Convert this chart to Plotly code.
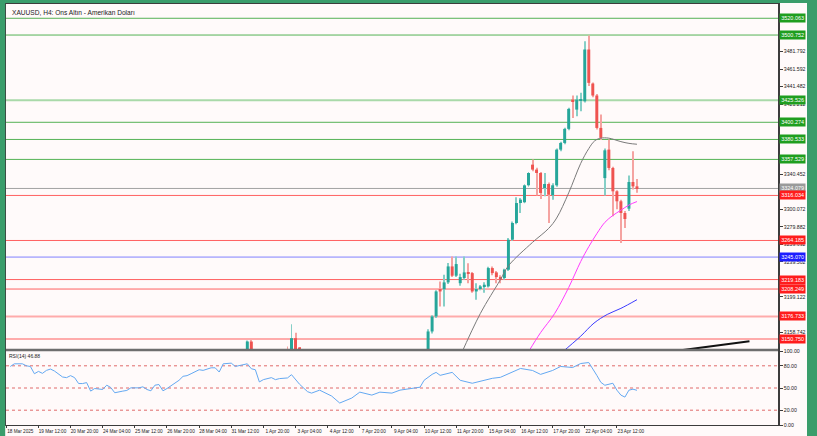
import plotly.graph_objects as go

# ---------------- data ----------------
symbol_title = "XAUUSD, H4: Ons Altın - Amerikan Doları"
rsi_title = "RSI(14) 46.88"

# H4 bar index (0 = first bar on the chart)
bar_idx = [60, 61, 70, 71, 72, 73,
           105, 106, 107, 108, 109, 110, 111, 112, 113, 114,
           115, 116, 117, 118, 119, 120, 121, 122, 123, 124,
           125, 126, 127, 128, 129, 130, 131, 132, 133, 134,
           135, 136, 137, 138, 139, 140, 141, 142, 143, 144,
           145, 146, 147, 148, 149, 150, 151, 152, 153, 154,
           155, 156, 157]
bar_open = [3130.0, 3147.8, 3135.0, 3118.0, 3151.7, 3141.0,
            3130.0, 3159.4, 3176.7, 3208.2, 3208.0, 3215.9, 3234.3, 3223.6, 3215.0, 3221.0,
            3227.4, 3226.6, 3205.5, 3209.3, 3211.3, 3211.3, 3232.4, 3227.4, 3222.0, 3220.9,
            3230.5, 3265.1, 3284.3, 3307.3, 3308.1, 3327.7, 3351.5, 3345.8, 3341.9, 3324.6,
            3329.2, 3316.2, 3327.7, 3368.8, 3376.5, 3392.7, 3426.5, 3414.9, 3425.5, 3424.5,
            3484.1, 3444.9, 3431.1, 3393.8, 3336.0, 3368.8, 3347.7, 3320.8, 3309.3, 3295.8,
            3300.8, 3331.5, 3326.5]
bar_high = [3149.0, 3149.7, 3142.0, 3167.7, 3158.0, 3141.5,
            3162.0, 3178.0, 3207.0, 3217.0, 3224.7, 3238.2, 3245.8, 3245.8, 3226.0, 3245.8,
            3238.0, 3228.0, 3215.0, 3213.0, 3216.0, 3234.0, 3234.3, 3229.0, 3224.0, 3231.5,
            3267.0, 3286.0, 3314.0, 3313.0, 3329.0, 3343.0, 3357.3, 3348.0, 3343.0, 3341.9,
            3331.0, 3330.0, 3370.0, 3378.0, 3394.0, 3417.0, 3431.1, 3431.1, 3434.2, 3493.7,
            3500.3, 3446.0, 3433.0, 3409.2, 3370.0, 3380.4, 3349.0, 3322.0, 3311.0, 3298.0,
            3338.9, 3366.9, 3335.0]
bar_low = [3125.0, 3130.0, 3120.0, 3110.0, 3100.0, 3105.0,
           3120.0, 3157.0, 3175.0, 3188.2, 3188.0, 3214.0, 3222.0, 3222.0, 3212.0, 3219.0,
           3215.0, 3204.0, 3195.9, 3207.0, 3204.0, 3210.0, 3224.0, 3215.0, 3215.0, 3219.0,
           3229.0, 3264.0, 3283.0, 3295.8, 3307.0, 3326.0, 3344.0, 3316.0, 3312.0, 3315.0,
           3284.3, 3311.2, 3326.0, 3367.0, 3375.0, 3391.0, 3405.3, 3407.3, 3413.0, 3423.0,
           3442.0, 3429.0, 3392.0, 3380.0, 3316.0, 3345.0, 3292.0, 3300.0, 3261.2, 3278.5,
           3298.0, 3323.0, 3319.0]
bar_close = [3147.8, 3135.0, 3128.0, 3151.7, 3125.0, 3120.0,
             3159.4, 3176.7, 3205.5, 3205.5, 3215.9, 3234.3, 3223.6, 3237.0, 3222.0, 3227.4,
             3226.0, 3205.5, 3208.2, 3211.3, 3213.2, 3232.4, 3226.6, 3222.0, 3219.0, 3230.5,
             3265.1, 3284.3, 3307.3, 3311.2, 3327.7, 3341.9, 3345.8, 3341.9, 3318.9, 3329.2,
             3316.9, 3327.7, 3368.8, 3376.5, 3392.7, 3415.7, 3424.5, 3426.5, 3426.5, 3484.1,
             3445.7, 3431.1, 3393.8, 3382.3, 3368.0, 3347.7, 3320.8, 3309.3, 3295.8, 3288.9,
             3331.5, 3326.5, 3324.6]

# moving averages
ma_gray_idx = [113, 118, 123, 125, 131, 135, 137, 140, 143, 145, 146.5, 148, 150, 153, 155, 157]
ma_gray_val = [3131, 3180, 3219, 3235, 3262, 3278, 3290, 3319, 3353, 3370, 3379, 3382, 3382, 3378, 3376, 3375]
ma_magenta_idx = [130, 133, 136.5, 140, 143, 145, 147, 149, 151, 153, 155, 157]
ma_magenta_val = [3136, 3158, 3180, 3210, 3240, 3257, 3272, 3285, 3293, 3299, 3305, 3309]
ma_blue_idx = [138, 143, 146.3, 149.6, 153, 157]
ma_blue_val = [3134, 3154, 3169, 3179, 3186, 3196]
ma_black_idx = [167.5, 185]
ma_black_val = [3137.5, 3148]

# horizontal levels
level_vals = [3520.063, 3500.752, 3425.526, 3400.274, 3380.533, 3357.529, 3324.079,
              3316.034, 3264.185, 3245.070, 3219.183, 3208.249, 3176.733, 3150.750]
level_kind = ["res", "res", "res_soft", "res", "res", "res", "pivot",
              "sup", "sup", "blue", "sup", "sup", "sup_soft", "sup_soft"]

# price scale tick labels
price_ticks = [3481.792, 3461.592, 3441.482, 3421.212, 3360.652, 3340.452, 3300.072,
               3279.882, 3259.692, 3239.502, 3199.122, 3178.932, 3158.742]

# time scale labels
time_tick_idx = [0, 8, 16, 24, 32, 40, 48, 56, 64, 72, 80, 88, 96, 104, 112, 120, 128, 136, 144, 152]
time_tick_text = ["18 Mar 2025", "19 Mar 12:00", "20 Mar 20:00", "24 Mar 04:00", "25 Mar 12:00",
                  "26 Mar 20:00", "28 Mar 04:00", "31 Mar 12:00", "1 Apr 20:00", "3 Apr 04:00",
                  "4 Apr 12:00", "7 Apr 20:00", "9 Apr 04:00", "10 Apr 12:00", "11 Apr 20:00",
                  "15 Apr 04:00", "16 Apr 12:00", "17 Apr 20:00", "22 Apr 04:00", "23 Apr 12:00"]

# RSI(14)
rsi_idx = [1, 2, 4, 5, 6, 7, 8, 9, 10, 11, 12, 13, 14, 15, 16, 17, 18, 19, 20, 21,
           22, 24, 25, 26, 27, 29, 30, 31, 33, 34, 35, 36, 37, 38, 39, 40, 42, 43, 44, 45,
           46, 48, 49, 51, 52, 53, 54, 56, 57, 58, 60, 61, 62, 63, 64, 66, 67, 68, 70, 71,
           72, 73, 75, 76, 78, 81, 83, 85, 86, 88, 91, 93, 96, 98, 101, 103, 104, 106, 107, 108,
           111, 113, 116, 118, 121, 123, 126, 128, 131, 133, 136, 138, 141, 142, 143, 145, 146, 147, 148, 149,
           151, 152, 153, 154, 155, 156, 157]
rsi_val = [79.1, 82.7, 82.7, 80.0, 79.1, 69.3, 72.4, 69.8, 73.8, 75.6, 72.9, 68.4, 64.9, 64.0, 66.7, 64.0, 56.0, 56.0, 57.3, 45.8,
           49.3, 48.0, 53.8, 50.7, 43.6, 45.8, 46.7, 50.2, 50.2, 51.6, 48.0, 46.2, 53.8, 54.7, 46.2, 49.3, 57.3, 60.4, 65.8, 66.7,
           69.3, 74.7, 73.8, 77.3, 77.3, 71.6, 82.7, 83.6, 79.1, 80.0, 82.7, 76.0, 74.7, 58.2, 61.3, 64.0, 61.3, 62.7, 63.6, 68.0,
           61.3, 55.1, 45.0, 43.1, 47.1, 39.1, 29.7, 33.7, 36.4, 44.4, 40.4, 44.4, 43.1, 47.1, 49.7, 51.1, 60.4, 68.4, 71.1, 67.1,
           71.1, 60.4, 56.4, 59.1, 63.1, 64.4, 71.1, 76.4, 73.7, 68.4, 73.7, 79.1, 77.7, 80.4, 83.1, 84.4, 76.4, 67.1, 57.7, 53.7,
           56.4, 47.1, 40.4, 37.7, 47.1, 48.4, 46.88]
rsi_levels = [80, 50, 20]
rsi_ticks = [0, 20, 50, 80, 100]

# ---------------- geometry / styles ----------------
W, H = 817, 436
PX_L, PX_R, PX_T, PX_B = 6, 778, 4, 425
plot_w, plot_h = PX_R - PX_L, PX_B - PX_T
BAR_PX = 4.017
X0_PX = 6.3  # pixel of bar index 0


def fy(p):
    return (PX_B - p) / plot_h


def fx(p):
    return (p - PX_L) / plot_w


BG = "#fffafa"
FRAME = "#3c3c3c"
GREEN_WIN = "#3a9d6b"
FONT = "Liberation Sans"
UP, DOWN = "#26a69a", "#ef5350"
UP_W, DOWN_W = "#86cfc7", "#f5a3a1"

level_style = {
    "res": dict(line="#55b255", w=1, box="#1f9e1f"),
    "res_soft": dict(line="#a9d9a9", w=2, box="#1f9e1f"),
    "pivot": dict(line="#a3a3a3", w=1, box="#9a9a9a"),
    "sup": dict(line="#ff6060", w=1, box="#ff1c1c"),
    "sup_soft": dict(line="#ffabab", w=2, box="#ff1c1c"),
    "blue": dict(line="#8080ff", w=1, box="#1c1cff"),
}

fig = go.Figure()

up = [c >= o for o, c in zip(bar_open, bar_close)]
fig.add_trace(go.Bar(
    x=bar_idx, y=[h - l for h, l in zip(bar_high, bar_low)], base=bar_low, width=0.24,
    marker=dict(color=[UP_W if u else DOWN_W for u in up], line=dict(width=0)),
    hoverinfo="skip", xaxis="x", yaxis="y"))
fig.add_trace(go.Bar(
    x=bar_idx, y=[max(abs(c - o), 0.8) for o, c in zip(bar_open, bar_close)],
    base=[min(o, c) for o, c in zip(bar_open, bar_close)], width=0.74,
    marker=dict(color=[UP if u else DOWN for u in up], line=dict(width=0)),
    hoverinfo="skip", xaxis="x", yaxis="y"))

for xs, ys, col, w in [(ma_gray_idx, ma_gray_val, "#7a7a7a", 1),
                       (ma_magenta_idx, ma_magenta_val, "#ff3cff", 1),
                       (ma_blue_idx, ma_blue_val, "#3c3cff", 1),
                       (ma_black_idx, ma_black_val, "#111111", 2)]:
    fig.add_trace(go.Scatter(x=xs, y=ys, mode="lines", line=dict(color=col, width=w, shape="spline"),
                             hoverinfo="skip", xaxis="x", yaxis="y"))

fig.add_trace(go.Scatter(x=rsi_idx, y=rsi_val, mode="lines", line=dict(color="#64a9f2", width=1),
                         hoverinfo="skip", xaxis="x2", yaxis="y2"))

shapes = []
annotations = []
for v, k in zip(level_vals, level_kind):
    st = level_style[k]
    shapes.append(dict(type="line", xref="x domain", yref="y", x0=0, x1=1, y0=v, y1=v,
                       line=dict(color=st["line"], width=st["w"]), layer="below"))
    annotations.append(dict(xref="paper", yref="y", x=1, y=v, xanchor="left", yanchor="middle",
                            xshift=1, text=f"{v:.3f}", showarrow=False, bgcolor=st["box"],
                            borderpad=1.2, font=dict(family=FONT, size=5.5, color="white")))
for v in rsi_levels:
    shapes.append(dict(type="line", xref="x2 domain", yref="y2", x0=0, x1=1, y0=v, y1=v,
                       line=dict(color="#e06a6a", width=1, dash="dot"), layer="below"))

# separator between price panel and RSI panel
shapes.append(dict(type="line", xref="paper", yref="paper", x0=0, x1=1, y0=fy(350), y1=fy(350),
                   line=dict(color="#6e6e6e", width=2.5)))
# window frame strips
shapes.append(dict(type="rect", xref="paper", yref="paper", x0=fx(0), x1=fx(5.2), y0=fy(H), y1=fy(0),
                   fillcolor=GREEN_WIN, line=dict(width=0), layer="above"))
shapes.append(dict(type="rect", xref="paper", yref="paper", x0=fx(807), x1=fx(W), y0=fy(H), y1=fy(0),
                   fillcolor=GREEN_WIN, line=dict(width=0), layer="above"))
shapes.append(dict(type="rect", xref="paper", yref="paper", x0=fx(0), x1=fx(W), y0=fy(3), y1=fy(0),
                   fillcolor=GREEN_WIN, line=dict(width=0), layer="above"))

annotations.append(dict(xref="paper", yref="paper", x=fx(10), y=fy(13), xanchor="left", yanchor="middle",
                        text=symbol_title, showarrow=False, font=dict(family=FONT, size=6.6, color="#1a1a1a")))
annotations.append(dict(xref="paper", yref="paper", x=fx(7), y=fy(356), xanchor="left", yanchor="middle",
                        text=rsi_title, showarrow=False, font=dict(family=FONT, size=5, color="#1a1a1a")))

x_range = [(PX_L - X0_PX) / BAR_PX, (PX_R - X0_PX) / BAR_PX]
ytickfont = dict(family=FONT, size=5.2, color="#222222")
xtickfont = dict(family=FONT, size=4.7, color="#222222")

fig.update_layout(
    width=W, height=H, showlegend=False, barmode="overlay",
    paper_bgcolor=BG, plot_bgcolor=BG,
    margin=dict(l=PX_L, r=W - PX_R, t=PX_T, b=H - PX_B, pad=0, autoexpand=False),
    xaxis=dict(domain=[0, 1], range=x_range, anchor="y", showticklabels=False, ticks="",
               showgrid=False, zeroline=False, showline=True, linecolor=FRAME, linewidth=1, mirror=True),
    yaxis=dict(domain=[fy(349), 1], range=[3139.2, 3536.5], side="right", anchor="x",
               tickvals=price_ticks, ticktext=[f"{v:.3f}" for v in price_ticks],
               ticks="outside", ticklen=3, tickcolor=FRAME, tickfont=ytickfont,
               showgrid=False, zeroline=False, showline=True, linecolor=FRAME, linewidth=1.5, mirror=True),
    xaxis2=dict(domain=[0, 1], range=x_range, anchor="y2",
                tickvals=time_tick_idx, ticktext=time_tick_text, ticks="outside", ticklen=2,
                tickcolor=FRAME, tickfont=xtickfont, ticklabelshift=14, ticklabelstandoff=-1, tickangle=0,
                showgrid=False, zeroline=False, showline=True, linecolor=FRAME, linewidth=1, mirror=True),
    yaxis2=dict(domain=[0, fy(351)], range=[0, 100], side="right", anchor="x2",
                tickvals=rsi_ticks, ticktext=[f"{v:.2f}" for v in rsi_ticks],
                ticks="outside", ticklen=3, tickcolor=FRAME, tickfont=ytickfont,
                showgrid=False, zeroline=False, showline=True, linecolor=FRAME, linewidth=1.5, mirror=True),
    shapes=shapes, annotations=annotations,
)

fig.write_html("out.html", config={"displayModeBar": False},
               post_script="document.body.style.margin='0';document.body.style.padding='0';"
                           "document.body.style.overflow='hidden';")
